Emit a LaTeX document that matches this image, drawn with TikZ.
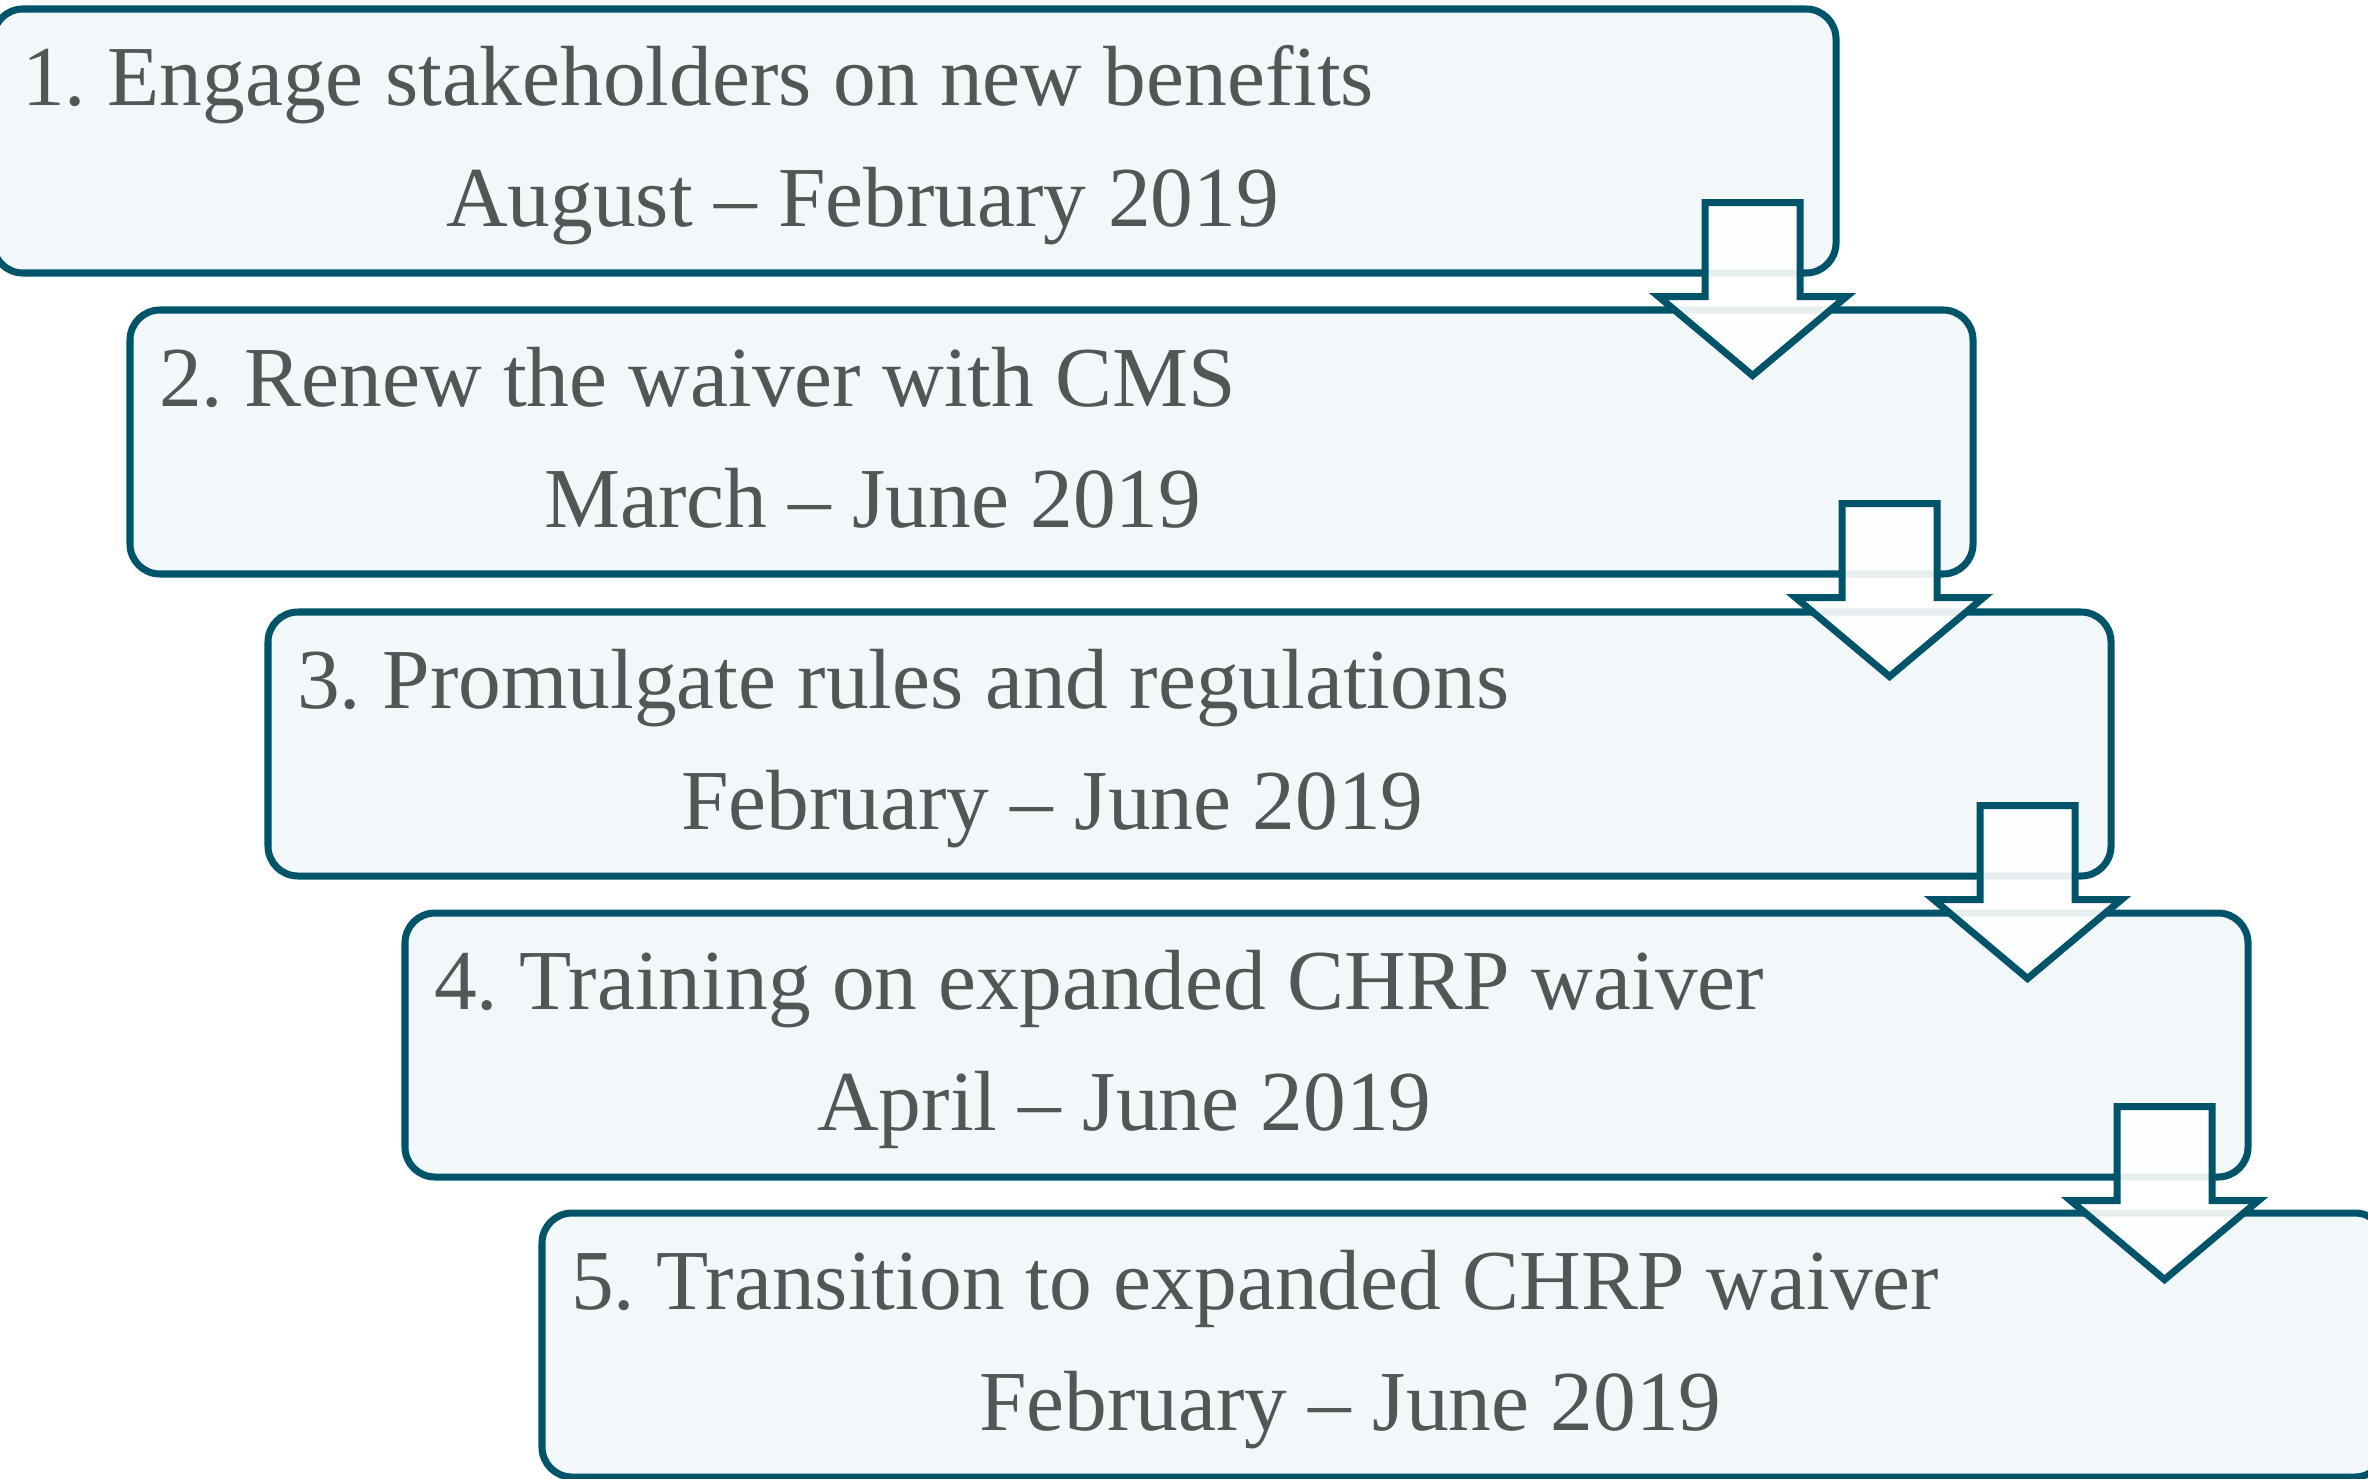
\documentclass[tikz,border=0pt]{standalone}
\usepackage{fontspec}
\setmainfont{Liberation Serif}
\usetikzlibrary{calc}
\frenchspacing

\definecolor{stepline}{HTML}{00546A}
\definecolor{stepfill}{HTML}{F2F7FA}
\definecolor{steptext}{HTML}{4F5757}

\tikzset{
  stepbox/.style={draw=stepline, fill=stepfill, line width=2pt,
    rounded corners=0.3cm, minimum width=18.43cm, minimum height=2.64cm,
    inner sep=0pt},
  steplabel/.style={anchor=base west, inner sep=0pt, text=steptext,
    font=\fontsize{24.3}{29}\selectfont},
  downarrow/.style={draw=stepline, fill=white, fill opacity=0.9,
    line width=2pt, line join=miter}
}

% block arrow hanging below a box
\newcommand{\steparrow}[1]{%
  \draw[downarrow] ($(#1.south east)+(-1.345,0.74)$) -- ++(0.95,0)
    -- ++(0,-0.94) -- ++(0.465,0) -- ++(-0.94,-0.79) -- ++(-0.94,0.79)
    -- ++(0.465,0) -- cycle;}

\begin{document}
\begin{tikzpicture}
  \useasboundingbox (0,0) rectangle (23.68,-14.78);

  \node[stepbox] (b1) at (9.145,-1.41) {};
  \node[stepbox] (b2) at (10.515,-4.42) {};
  \node[stepbox] (b3) at (11.895,-7.44) {};
  \node[stepbox] (b4) at (13.265,-10.45) {};
  \node[stepbox] (b5) at (14.635,-13.45) {};

  \node[steplabel] (t1) at ($(b1.north west)+(0.32,-1.00)$) {1. Engage stakeholders on new benefits};
  \node[steplabel] (d1) at ($(b1.north west)+(4.56,-2.21)$) {August -- February 2019};

  \node[steplabel] (t2) at ($(b2.north west)+(0.32,-1.00)$) {2. Renew the waiver with CMS};
  \node[steplabel] (d2) at ($(b2.north west)+(4.17,-2.21)$) {March -- June 2019};

  \node[steplabel] (t3) at ($(b3.north west)+(0.32,-1.00)$) {3. Promulgate rules and regulations};
  \node[steplabel] (d3) at ($(b3.north west)+(4.16,-2.21)$) {February -- June 2019};

  \node[steplabel] (t4) at ($(b4.north west)+(0.32,-1.00)$) {4. Training on expanded CHRP waiver};
  \node[steplabel] (d4) at ($(b4.north west)+(4.15,-2.21)$) {April -- June 2019};

  \node[steplabel] (t5) at ($(b5.north west)+(0.32,-1.00)$) {5. Transition to expanded CHRP waiver};
  \node[steplabel] (d5) at ($(b5.north west)+(4.40,-2.21)$) {February -- June 2019};

  \steparrow{b1}
  \steparrow{b2}
  \steparrow{b3}
  \steparrow{b4}
\end{tikzpicture}
\end{document}
